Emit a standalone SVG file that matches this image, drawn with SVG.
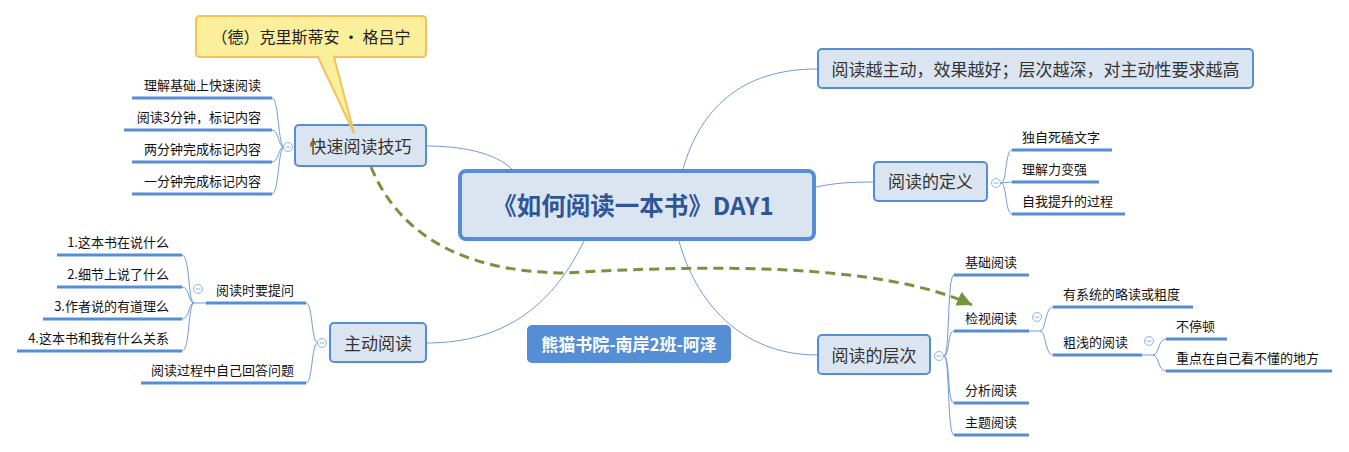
<svg xmlns="http://www.w3.org/2000/svg" width="1349" height="452" viewBox="0 0 1349 452">
<defs>
<style>
text{font-family:"Noto Sans CJK SC","Microsoft YaHei","Noto Sans",sans-serif;}
.node{fill:#dbe5f1;stroke:#558ed5;stroke-width:2;}
.nt{font-size:17px;fill:#333;text-anchor:middle;}
.ct{font-size:13px;fill:#111;}
.end{text-anchor:end;}
.ul{stroke:#558ed5;stroke-width:3;fill:none;}
.ln{stroke:#6f9bd8;stroke-width:1;fill:none;}
.col{fill:#fff;stroke:#8db3e2;stroke-width:1;}
.minus{stroke:#8db3e2;stroke-width:1;}
</style>
<marker id="arr" markerUnits="userSpaceOnUse" markerWidth="17" markerHeight="16" refX="15" refY="7.5" orient="auto">
<path d="M0,0 L15,7.5 L0,15 z" fill="#77933c"/>
</marker>
</defs>
<rect width="1349" height="452" fill="#fff"/>

<g id="connectors">
<path class="ln" d="M426,146 C460,146 495,152 513,170"/>
<path class="ln" d="M584,241 C555,300 510,343 426,343"/>
<path class="ln" d="M679,241 C695,300 740,355 817,355"/>
<path class="ln" d="M683,169 C700,110 740,69 817,69"/>
<path class="ln" d="M816,187 C835,183 850,182 873,182"/>
<!-- 快速阅读技巧 children -->
<path class="ln" d="M284,147 C278,147 279,98 272,98"/>
<path class="ln" d="M284,147 C278,147 279,130 272,130"/>
<path class="ln" d="M284,147 C278,147 279,162 272,162"/>
<path class="ln" d="M284,147 C278,147 279,194 272,194"/>
<!-- 主动阅读 children -->
<path class="ln" d="M318,343 C311,343 313,303 306,303"/>
<path class="ln" d="M318,343 C311,343 313,383 306,383"/>
<!-- 阅读时要提问 children -->
<path class="ln" d="M206,303 L194,303"/>
<path class="ln" d="M194,303 C188,303 190,255 182,255"/>
<path class="ln" d="M194,303 C188,303 190,287 182,287"/>
<path class="ln" d="M194,303 C188,303 190,319 182,319"/>
<path class="ln" d="M194,303 C188,303 190,351 182,351"/>
<!-- 阅读的定义 children -->
<path class="ln" d="M1001,183 C1007,183 1005,150 1012,150"/>
<path class="ln" d="M1001,183 L1012,182"/>
<path class="ln" d="M1001,183 C1007,183 1005,214 1012,214"/>
<!-- 阅读的层次 children -->
<path class="ln" d="M944,356 C950,356 947,275 954,275"/>
<path class="ln" d="M944,356 C950,356 947,331 954,331"/>
<path class="ln" d="M944,356 C950,356 947,403 954,403"/>
<path class="ln" d="M944,356 C950,356 947,435 954,435"/>
<!-- 检视阅读 children -->
<path class="ln" d="M1029,331 L1040,331"/>
<path class="ln" d="M1040,331 C1046,331 1045,307 1053,307"/>
<path class="ln" d="M1040,331 C1046,331 1045,355 1053,355"/>
<!-- 粗浅的阅读 children -->
<path class="ln" d="M1142,355 L1153,355"/>
<path class="ln" d="M1153,355 C1159,355 1158,339 1166,339"/>
<path class="ln" d="M1153,355 C1159,355 1158,371 1166,371"/>
<!-- dashed relationship -->
<path d="M371,167 C395,225 450,272 565,273 C700,265 880,262 972,305" fill="none" stroke="#77933c" stroke-width="3" stroke-dasharray="10,6" marker-end="url(#arr)"/>
</g>

<g id="central">
<rect x="460" y="171" width="354" height="68" rx="6" fill="#dbe5f1" stroke="#558ed5" stroke-width="4"/>
<text x="633" y="214.5" font-size="24.5" font-weight="bold" fill="#2f5597" text-anchor="middle">《如何阅读一本书》DAY1</text>
</g>

<g id="label">
<rect x="527" y="325" width="204" height="38" rx="5" fill="#558ed5"/>
<text x="629" y="351" font-size="17" font-weight="bold" fill="#fff" text-anchor="middle">熊猫书院-南岸2班-阿泽</text>
</g>

<g id="n-kuaisu">
<rect class="node" x="295" y="125" width="131" height="41" rx="4"/>
<text class="nt" x="360.5" y="153">快速阅读技巧</text>
<circle class="col" cx="288" cy="147" r="4.5"/><line class="minus" x1="285.5" y1="147" x2="290.5" y2="147"/>
</g>
<g id="c-k1"><line class="ul" x1="132" y1="98" x2="272" y2="98"/><text class="ct end" x="261" y="90">理解基础上快速阅读</text></g>
<g id="c-k2"><line class="ul" x1="124" y1="130" x2="272" y2="130"/><text class="ct end" x="261" y="122">阅读3分钟，标记内容</text></g>
<g id="c-k3"><line class="ul" x1="132" y1="162" x2="272" y2="162"/><text class="ct end" x="261" y="154">两分钟完成标记内容</text></g>
<g id="c-k4"><line class="ul" x1="132" y1="194" x2="272" y2="194"/><text class="ct end" x="261" y="186">一分钟完成标记内容</text></g>

<g id="n-zhudong">
<rect class="node" x="330" y="323" width="96" height="39" rx="4"/>
<text class="nt" x="378" y="349.5">主动阅读</text>
<circle class="col" cx="322" cy="343" r="4.5"/><line class="minus" x1="319.5" y1="343" x2="324.5" y2="343"/>
</g>
<g id="c-z1">
<line class="ul" x1="206" y1="303" x2="306" y2="303"/><text class="ct end" x="294" y="295">阅读时要提问</text>
<circle class="col" cx="198" cy="289" r="4.5"/><line class="minus" x1="195.5" y1="289" x2="200.5" y2="289"/>
</g>
<g id="c-z2"><line class="ul" x1="141" y1="383" x2="306" y2="383"/><text class="ct end" x="294" y="375">阅读过程中自己回答问题</text></g>
<g id="c-q1"><line class="ul" x1="57" y1="255" x2="182" y2="255"/><text class="ct end" x="169" y="247">1.这本书在说什么</text></g>
<g id="c-q2"><line class="ul" x1="57" y1="287" x2="182" y2="287"/><text class="ct end" x="169" y="279">2.细节上说了什么</text></g>
<g id="c-q3"><line class="ul" x1="43" y1="319" x2="182" y2="319"/><text class="ct end" x="169" y="311">3.作者说的有道理么</text></g>
<g id="c-q4"><line class="ul" x1="17" y1="351" x2="182" y2="351"/><text class="ct end" x="169" y="343">4.这本书和我有什么关系</text></g>

<g id="n-zhudongxing">
<rect class="node" x="818" y="49" width="435" height="39" rx="4"/>
<text class="nt" x="1035.5" y="76">阅读越主动，效果越好；层次越深，对主动性要求越高</text>
</g>

<g id="n-dingyi">
<rect class="node" x="874" y="162" width="113" height="39" rx="4"/>
<text class="nt" x="930.5" y="188">阅读的定义</text>
<circle class="col" cx="996" cy="183" r="4.5"/><line class="minus" x1="993.5" y1="183" x2="998.5" y2="183"/>
</g>
<g id="c-d1"><line class="ul" x1="1012" y1="150" x2="1112" y2="150"/><text class="ct" x="1022" y="142">独自死磕文字</text></g>
<g id="c-d2"><line class="ul" x1="1012" y1="182" x2="1099" y2="182"/><text class="ct" x="1022" y="174">理解力变强</text></g>
<g id="c-d3"><line class="ul" x1="1012" y1="214" x2="1125" y2="214"/><text class="ct" x="1022" y="206">自我提升的过程</text></g>

<g id="n-cengci">
<rect class="node" x="818" y="335" width="112" height="39" rx="4"/>
<text class="nt" x="874" y="361.5">阅读的层次</text>
<circle class="col" cx="939" cy="356" r="4.5"/><line class="minus" x1="936.5" y1="356" x2="941.5" y2="356"/>
</g>
<g id="c-c1"><line class="ul" x1="954" y1="275" x2="1029" y2="275"/><text class="ct" x="965" y="267">基础阅读</text></g>
<g id="c-c2">
<line class="ul" x1="954" y1="331" x2="1029" y2="331"/><text class="ct" x="965" y="323">检视阅读</text>
<circle class="col" cx="1037" cy="317" r="4.5"/><line class="minus" x1="1034.5" y1="317" x2="1039.5" y2="317"/>
</g>
<g id="c-c3"><line class="ul" x1="954" y1="403" x2="1029" y2="403"/><text class="ct" x="965" y="395">分析阅读</text></g>
<g id="c-c4"><line class="ul" x1="954" y1="435" x2="1029" y2="435"/><text class="ct" x="965" y="427">主题阅读</text></g>
<g id="c-j1"><line class="ul" x1="1053" y1="307" x2="1193" y2="307"/><text class="ct" x="1063" y="299">有系统的略读或粗度</text></g>
<g id="c-j2">
<line class="ul" x1="1053" y1="355" x2="1142" y2="355"/><text class="ct" x="1063" y="347">粗浅的阅读</text>
<circle class="col" cx="1149" cy="341" r="4.5"/><line class="minus" x1="1146.5" y1="341" x2="1151.5" y2="341"/>
</g>
<g id="c-s1"><line class="ul" x1="1166" y1="339" x2="1227" y2="339"/><text class="ct" x="1176" y="331">不停顿</text></g>
<g id="c-s2"><line class="ul" x1="1166" y1="371" x2="1332" y2="371"/><text class="ct" x="1176" y="363">重点在自己看不懂的地方</text></g>

<g id="callout">
<path d="M200,16 H422 Q426,16 426,20 V53 Q426,57 422,57 H334 L354,133 L318,57 H200 Q196,57 196,53 V20 Q196,16 200,16 Z" fill="#fcef9c" stroke="#f4c257" stroke-width="2" stroke-linejoin="round"/>
<text x="311" y="43" font-size="16" fill="#222" text-anchor="middle">（德）克里斯蒂安 · 格吕宁</text>
</g>
</svg>
